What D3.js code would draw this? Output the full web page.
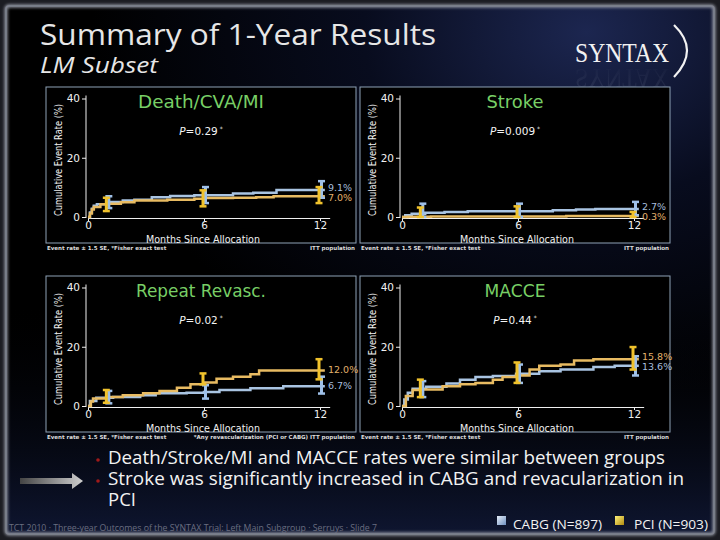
<!DOCTYPE html>
<html><head><meta charset="utf-8">
<script src="https://cdn.jsdelivr.net/npm/d3@7"></script>
<style>body{margin:0;background:#000;}svg{display:block}</style>
</head><body>
<svg id="c" width="720" height="540"></svg>
<script>
// ---------------- DATA ----------------
const monthTicks = [0, 6, 12];
const rateTicks = [0, 20, 40];
const barMonths = [1, 6, 12];
const panelTitles = ["Death/CVA/MI", "Stroke", "Repeat Revasc.", "MACCE"];
const pValues = ["0.29", "0.009", "0.02", "0.44"];
const finalCABG = ["9.1%", "2.7%", "6.7%", "13.6%"];
const finalPCI = ["7.0%", "0.3%", "12.0%", "15.8%"];
const seriesNames = ["CABG (N=897)", "PCI (N=903)"];
const bullets = ["Death/Stroke/MI and MACCE rates were similar between groups",
                 "Stroke was significantly increased in CABG and revacularization in",
                 "PCI"];
const footNoteLeft = "Event rate \u00b1 1.5 SE, *Fisher exact test";
const footNoteRight = ["ITT population", "ITT population", "*Any revascularization (PCI or CABG)  ITT population", "ITT population"];

// Kaplan-Meier curves: [month, cumulative %]
const deathCABG = [[0,0],[0.1,1.5],[0.2,2.8],[0.3,3.8],[0.46,4.3],[1.0,5.1],[1.8,5.6],[2.4,5.8],[3.3,6.7],[4.25,7.1],[5.5,7.3],[7.5,7.9],[8.55,8.2],[9.75,9.1]];
const deathPCI  = [[0,0],[0.1,1.2],[0.2,2.5],[0.3,3.4],[0.64,4.3],[1.0,4.5],[1.7,5.0],[2.4,5.6],[4.1,5.8],[5.5,6.2],[6.0,6.4],[7.5,6.5],[8.7,6.7],[9.6,7.0]];
const strokeCABG = [[0,0],[0.17,0.6],[0.5,1.1],[1.2,1.4],[2.2,1.7],[3.4,1.9],[7.8,2.3],[9.0,2.5],[10.0,2.7]];
const strokePCI  = [[0,0],[0.3,0.1],[1.5,0.2],[8.5,0.3]];
const revascCABG = [[0,0],[0.1,1.7],[0.43,2.8],[1.3,3.0],[2.7,3.6],[3.5,4.3],[5.1,4.5],[6.0,4.7],[6.8,5.4],[8.4,6.0],[10.1,6.7]];
const revascPCI  = [[0,0],[0.15,1.5],[0.26,2.5],[0.95,3.0],[1.8,3.6],[2.85,4.3],[3.7,5.1],[4.6,6.2],[5.3,7.3],[6.0,7.9],[6.65,9.2],[7.5,9.9],[8.4,10.7],[8.85,12.0]];
const macceCABG = [[0,0],[0.12,2.2],[0.3,4.5],[0.55,5.8],[1.25,6.5],[2.3,7.6],[3.0,8.9],[3.8,9.8],[4.7,10.1],[5.9,10.9],[7.1,11.7],[8.2,12.3],[9.9,13.2],[11.0,13.6]];
const maccePCI  = [[0,0],[0.2,3.4],[0.55,5.4],[1.07,5.6],[2.1,6.7],[3.0,7.3],[3.8,7.8],[4.7,8.9],[5.2,9.8],[5.9,10.3],[6.6,12.3],[7.1,13.6],[8.2,14.0],[8.9,15.4],[9.9,15.8]];

// Error bars (±1.5 SE) at barMonths: [low, high]
const deathCABGErr = [[3.0,7.0],[4.7,10.1],[6.5,12.1]];
const deathPCIErr  = [[2.0,6.5],[3.6,9.0],[4.7,10.1]];
const strokeCABGErr = [[0,4.5],[0,4.5],[0.6,5.1]];
const strokePCIErr  = [[0,3.2],[0,3.6],[0,1.7]];
const revascCABGErr = [[0.9,5.1],[2.5,7.0],[4.2,9.9]];
const revascPCIErr  = [[1.1,5.4],[7.3,11.0],[9.0,15.8]];
const macceCABGErr = [[3.0,8.4],[7.8,14.0],[10.3,16.8]];
const maccePCIErr  = [[3.0,8.9],[7.8,14.7],[12.3,19.9]];

// ---------------- STYLE ----------------
const C_BLUE_LINE = "#a9c4e2", C_BLUE_BAR = "#9fc0e8", C_BLUE_TXT = "#a6bedc";
const C_YEL_LINE = "#e8bb62", C_YEL_BAR = "#f0c22c", C_YEL_TXT = "#e2b26c";
const C_TITLE = "#78cf66";
const CHART_FONT = "'DejaVu Sans', Verdana, sans-serif";
const SLIDE_FONT = "'Liberation Sans Narrow', 'Open Sans', sans-serif";

const svg = d3.select("#c");
const defs = svg.append("defs");

// background
const bg = defs.append("radialGradient").attr("id","bgR").attr("cx","0.82").attr("cy","0.05").attr("r","0.7");
bg.append("stop").attr("offset","0").attr("stop-color","#1c2650");
bg.append("stop").attr("offset","0.45").attr("stop-color","#080c1e");
bg.append("stop").attr("offset","1").attr("stop-color","#000000");
const bg2 = defs.append("linearGradient").attr("id","bgB").attr("x1","0").attr("y1","0").attr("x2","0").attr("y2","1");
bg2.append("stop").attr("offset","0").attr("stop-color","#000").attr("stop-opacity","0");
bg2.append("stop").attr("offset","1").attr("stop-color","#101836").attr("stop-opacity","0.9");
const blur = defs.append("filter").attr("id","glow").attr("x","-5%").attr("y","-5%").attr("width","110%").attr("height","110%");
blur.append("feGaussianBlur").attr("stdDeviation","1.5");
const arrowG = defs.append("linearGradient").attr("id","arrowG").attr("x1","0").attr("x2","1");
arrowG.append("stop").attr("offset","0").attr("stop-color","#444");
arrowG.append("stop").attr("offset","1").attr("stop-color","#cfcfcf");
const blueSq = defs.append("linearGradient").attr("id","blueSq").attr("x1","0").attr("y1","0").attr("x2","1").attr("y2","1");
blueSq.append("stop").attr("offset","0").attr("stop-color","#e6eef8");
blueSq.append("stop").attr("offset","1").attr("stop-color","#6f90c0");
const yelSq = defs.append("linearGradient").attr("id","yelSq").attr("x1","0").attr("y1","0").attr("x2","1").attr("y2","1");
yelSq.append("stop").attr("offset","0").attr("stop-color","#fff27a");
yelSq.append("stop").attr("offset","1").attr("stop-color","#b08a10");
const reflG = defs.append("linearGradient").attr("id","reflG").attr("x1","0").attr("y1","0").attr("x2","0").attr("y2","1");
reflG.append("stop").attr("offset","0").attr("stop-color","#8890a8").attr("stop-opacity","0.35");
reflG.append("stop").attr("offset","1").attr("stop-color","#8890a8").attr("stop-opacity","0");

svg.append("rect").attr("width",720).attr("height",540).attr("fill","#1b1c22");
svg.append("rect").attr("x",6).attr("y",6).attr("width",708).attr("height",528).attr("fill","url(#bgR)");
svg.append("rect").attr("x",6).attr("y",300).attr("width",708).attr("height",234).attr("fill","url(#bgB)");
svg.append("rect").attr("x",6).attr("y",6).attr("width",708).attr("height",528).attr("rx",3)
  .attr("fill","none").attr("stroke","#9a9eaa").attr("stroke-width",3).attr("filter","url(#glow)");
svg.append("rect").attr("x",6).attr("y",6).attr("width",708).attr("height",528).attr("rx",3)
  .attr("fill","none").attr("stroke","#7e828e").attr("stroke-width",1.5);

// Title
svg.append("text").attr("x",40).attr("y",45).text("Summary of 1-Year Results")
  .attr("font-family",SLIDE_FONT).attr("font-size",30).attr("fill","#e6e6e6")
  .attr("textLength",396).attr("lengthAdjust","spacingAndGlyphs");
svg.append("text").attr("x",40).attr("y",73).text("LM Subset")
  .attr("font-family",SLIDE_FONT).attr("font-style","italic").attr("font-size",22).attr("fill","#e6e6e6")
  .attr("textLength",118).attr("lengthAdjust","spacingAndGlyphs");

// SYNTAX logo (reflection drawn as a faint mirrored shape below the word)
const logo = svg.append("g");
logo.append("text").attr("x",575).attr("y",62).text("SYNTAX")
  .attr("font-family","'Liberation Serif', 'DejaVu Serif', serif").attr("font-size",27).attr("fill","#f2f2f2")
  .attr("textLength",94).attr("lengthAdjust","spacingAndGlyphs");
logo.append("g").attr("transform","translate(0,131) scale(1,-1)").append("text").attr("x",575).attr("y",62).text("SYNTAX")
  .attr("font-family","'Liberation Serif', 'DejaVu Serif', serif").attr("font-size",27).attr("fill","url(#reflG)")
  .attr("textLength",94).attr("lengthAdjust","spacingAndGlyphs").attr("opacity",0.5);
logo.append("path").attr("d","M674,25 Q700,50 674,77").attr("fill","none").attr("stroke","#f2f2f2").attr("stroke-width",2.2);

// ---------------- PANELS ----------------
const panels = [
  {bx:46, by:87, cabg:deathCABG, pci:deathPCI, cabgErr:deathCABGErr, pciErr:deathPCIErr, tw:126},
  {bx:360, by:87, cabg:strokeCABG, pci:strokePCI, cabgErr:strokeCABGErr, pciErr:strokePCIErr, tw:57},
  {bx:46, by:276, cabg:revascCABG, pci:revascPCI, cabgErr:revascCABGErr, pciErr:revascPCIErr, tw:130},
  {bx:360, by:276, cabg:macceCABG, pci:maccePCI, cabgErr:macceCABGErr, pciErr:maccePCIErr, tw:61}
];
const PW = 310, PH = 156;

panels.forEach((p, i) => {
  const g = svg.append("g");
  g.append("rect").attr("x",p.bx).attr("y",p.by).attr("width",PW).attr("height",PH)
    .attr("fill","#000").attr("stroke","#8ea2b6").attr("stroke-width",1);
  const x0 = p.bx + 42;
  const x = d3.scaleLinear().domain([0, 12.5]).range([x0, x0 + 232 * 12.5 / 12]);
  const y = d3.scaleLinear().domain([0, 40]).range([p.by + 130, p.by + 11.5]);

  // axes
  const ax = g.append("g")
    .call(d3.axisBottom(x).tickValues(monthTicks).tickSize(3).tickSizeOuter(0).tickPadding(1));
  const ay = g.append("g").attr("transform", `translate(${x0 - 2},0)`)
    .call(d3.axisLeft(y).tickValues(rateTicks).tickSize(4).tickSizeOuter(0).tickPadding(2));
  ax.attr("transform", `translate(0,${y(0) + 1})`);
  [ax, ay].forEach(a => {
    a.selectAll("path,line").attr("stroke","#f0f0f0").attr("stroke-width",1);
    a.selectAll("text").attr("fill","#f0f0f0").attr("font-family",CHART_FONT).attr("font-size",10.5);
  });
  ay.select(".domain").attr("d", `M0,${y(0)+1}V${y(40)-3}`);

  // axis labels
  g.append("text").attr("transform",`translate(${p.bx + 13},${p.by + 73}) rotate(-90)`)
    .attr("text-anchor","middle").attr("dominant-baseline","middle")
    .attr("font-family",CHART_FONT).attr("font-size",10).attr("fill","#f0f0f0")
    .attr("textLength",112).attr("lengthAdjust","spacingAndGlyphs").text("Cumulative Event Rate (%)");
  g.append("text").attr("x",p.bx + 157).attr("y",p.by + 155.5).attr("text-anchor","middle")
    .attr("font-family",CHART_FONT).attr("font-size",11).attr("fill","#f0f0f0")
    .attr("textLength",114).attr("lengthAdjust","spacingAndGlyphs").text("Months Since Allocation");

  // title
  g.append("text").attr("x",p.bx + 155).attr("y",p.by + 21).attr("text-anchor","middle")
    .attr("font-family",CHART_FONT).attr("font-size",18).attr("fill",C_TITLE)
    .attr("textLength",p.tw).attr("lengthAdjust","spacingAndGlyphs").text(panelTitles[i]);
  // p value
  const pt = g.append("text").attr("x",p.bx + 155).attr("y",p.by + 48).attr("text-anchor","middle")
    .attr("font-family",CHART_FONT).attr("font-size",10.5).attr("fill","#f4f4f4");
  pt.append("tspan").attr("font-style","italic").text("P");
  pt.append("tspan").text("=" + pValues[i]);
  pt.append("tspan").attr("font-size",6).attr("dy",-4).text(" *");

  // curves
  const line = d3.line().x(d => x(d[0])).y(d => y(d[1])).curve(d3.curveStepAfter);
  const ext = arr => arr.concat([[12.25, arr[arr.length - 1][1]]]);
  g.append("path").attr("d", line(ext(p.cabg))).attr("fill","none").attr("stroke",C_BLUE_LINE).attr("stroke-width",2.5);
  g.append("path").attr("d", line(ext(p.pci))).attr("fill","none").attr("stroke",C_YEL_LINE).attr("stroke-width",2.5);

  // error bars
  const drawErr = (errs, color, off) => {
    errs.forEach((e, k) => {
      const xx = x(barMonths[k]) + off;
      const lo = y(Math.max(0, e[0])), hi = y(e[1]);
      g.append("line").attr("x1",xx).attr("x2",xx).attr("y1",lo).attr("y2",hi).attr("stroke",color).attr("stroke-width",3);
      [lo, hi].forEach(yy => g.append("line").attr("x1",xx - 3.5).attr("x2",xx + 3.5).attr("y1",yy).attr("y2",yy)
        .attr("stroke",color).attr("stroke-width",2.5));
    });
  };
  drawErr(p.cabgErr, C_BLUE_BAR, 1.5);
  drawErr(p.pciErr, C_YEL_BAR, -1);

  // end labels, spread apart so they do not collide
  const lastC = p.cabg[p.cabg.length - 1][1], lastP = p.pci[p.pci.length - 1][1];
  let yC = y(lastC), yP = y(lastP);
  const minGap = 10;
  if (Math.abs(yC - yP) < minGap) {
    const mid = (yC + yP) / 2, s = yC < yP ? -1 : 1;
    yC = mid + s * minGap / 2; yP = mid - s * minGap / 2;
  }
  const lx = x(12) + 8;
  g.append("text").attr("x",lx).attr("y",yC).attr("dominant-baseline","middle")
    .attr("font-family",CHART_FONT).attr("font-size",9.5).attr("fill",C_BLUE_TXT).text(finalCABG[i]);
  g.append("text").attr("x",lx).attr("y",yP).attr("dominant-baseline","middle")
    .attr("font-family",CHART_FONT).attr("font-size",9.5).attr("fill",C_YEL_TXT).text(finalPCI[i]);

  // footnotes
  g.append("text").attr("x",p.bx + 1).attr("y",p.by + PH + 7).attr("font-family",CHART_FONT)
    .attr("font-size",5.5).attr("font-weight","bold").attr("fill","#dcdcdc").text(footNoteLeft);
  g.append("text").attr("x",p.bx + PW - 1).attr("y",p.by + PH + 7).attr("text-anchor","end").attr("font-family",CHART_FONT)
    .attr("font-size",5.5).attr("font-weight","bold").attr("fill","#dcdcdc").text(footNoteRight[i]);
});

// ---------------- BULLETS ----------------
const bulletY = [464, 485, 506];
const bulletW = [557, 576, 28];
bullets.forEach((b, i) => {
  svg.append("text").attr("x",108).attr("y",bulletY[i]).attr("font-family",SLIDE_FONT).attr("font-size",18)
    .attr("fill","#f2f2f2").attr("textLength",bulletW[i]).attr("lengthAdjust","spacingAndGlyphs").text(b);
});
[0, 1].forEach(i => svg.append("circle").attr("cx",98).attr("cy",bulletY[i] - 4).attr("r",1.8).attr("fill","#a11a1a"));
// arrow
svg.append("path").attr("d","M20,478 L72,478 L72,473 L83,481 L72,489 L72,484 L20,484 Z").attr("fill","url(#arrowG)");

// legend
svg.append("rect").attr("x",497).attr("y",516).attr("width",9).attr("height",9).attr("fill","url(#blueSq)");
svg.append("text").attr("x",513).attr("y",529).attr("font-family",SLIDE_FONT).attr("font-size",13.5).attr("fill","#f2f2f2")
  .attr("textLength",89).attr("lengthAdjust","spacingAndGlyphs").text(seriesNames[0]);
svg.append("rect").attr("x",615).attr("y",516).attr("width",9).attr("height",9).attr("fill","url(#yelSq)");
svg.append("text").attr("x",634).attr("y",529).attr("font-family",SLIDE_FONT).attr("font-size",13.5).attr("fill","#f2f2f2")
  .attr("textLength",74).attr("lengthAdjust","spacingAndGlyphs").text(seriesNames[1]);

// footer
svg.append("text").attr("x",9).attr("y",531).attr("font-family",SLIDE_FONT).attr("font-size",9).attr("fill","#6a6e80")
  .attr("textLength",368).attr("lengthAdjust","spacingAndGlyphs")
  .text("TCT 2010 \u00b7 Three-year Outcomes of the SYNTAX Trial: Left Main Subgroup \u00b7 Serruys \u00b7 Slide 7");
</script>
</body></html>
